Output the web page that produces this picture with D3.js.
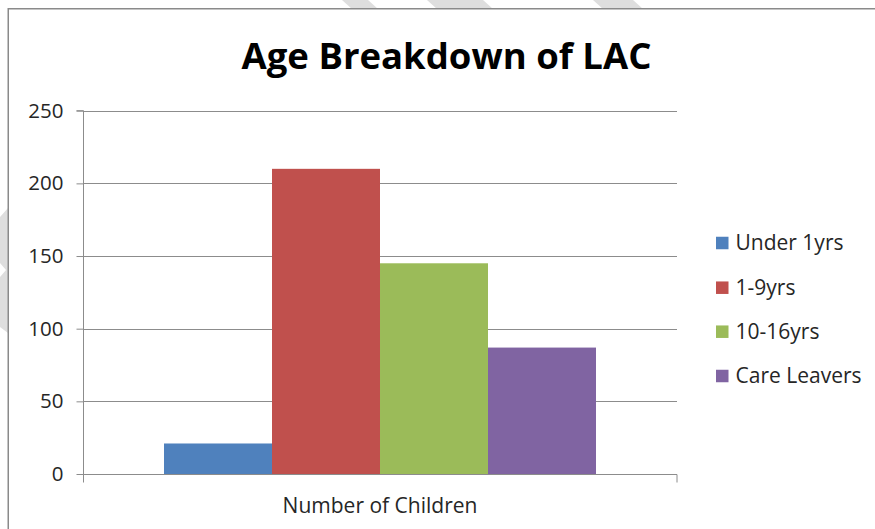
<!DOCTYPE html>
<html>
<head>
<meta charset="utf-8">
<script src="https://cdn.jsdelivr.net/npm/d3@7"></script>
<style>
  html, body { margin: 0; padding: 0; background: #ffffff; }
  svg { display: block; }
  text { font-family: "Open Sans", Lato, sans-serif; fill: #262626; }
</style>
</head>
<body>
<svg id="chart" width="875" height="529"></svg>
<script>
// Chart data
const title = "Age Breakdown of LAC";
const category = "Number of Children";
const seriesNames = ["Under 1yrs", "1-9yrs", "10-16yrs", "Care Leavers"];
const seriesValues = [21, 210, 145, 87];
const seriesColors = ["#4F81BD", "#C0504D", "#9BBB59", "#8064A2"];
const yTicks = [0, 50, 100, 150, 200, 250];

const svg = d3.select("#chart");
const W = 875, H = 529;
const FONT = "'Open Sans', Lato, sans-serif";

// Light diagonal background stripes around the chart frame
const stripes = [
  [[342, 0], [368, 0], [378, 9], [352, 9]],
  [[427, 0], [483, 0], [493, 9], [437, 9]],
  [[593, 0], [633, 0], [643, 9], [603, 9]],
  [[0, 217], [8, 208], [8, 333], [0, 327], [0, 277], [6, 270], [0, 263]]
];
svg.append("g").selectAll("path").data(stripes).join("path")
  .attr("d", d => d3.line()(d) + "Z")
  .attr("fill", "#dedede");

// Chart frame (cropped on right and bottom)
svg.append("rect")
  .attr("x", 8.25).attr("y", 8.75)
  .attr("width", W + 20).attr("height", H + 20)
  .attr("fill", "#ffffff")
  .attr("stroke", "#8a8a8a").attr("stroke-width", 1.5);

// Plot area
const plot = { left: 83, right: 677, top: 110.7, bottom: 474 };

const y = d3.scaleLinear().domain([0, 250]).range([plot.bottom, plot.top]);
const x = d3.scaleBand().domain(seriesNames)
  .range([plot.left, plot.right])
  .paddingInner(0).paddingOuter(0.75);

// Horizontal gridlines
svg.append("g").selectAll("line").data(yTicks.filter(t => t > 0)).join("line")
  .attr("x1", plot.left).attr("x2", plot.right)
  .attr("y1", d => Math.round(y(d)) + 0.5).attr("y2", d => Math.round(y(d)) + 0.5)
  .attr("stroke", "#8c8c8c").attr("stroke-width", 1);

// Bars
svg.append("g").selectAll("rect").data(seriesValues).join("rect")
  .attr("x", (d, i) => x(seriesNames[i]))
  .attr("width", x.bandwidth())
  .attr("y", d => y(d))
  .attr("height", d => y(0) - y(d))
  .attr("fill", (d, i) => seriesColors[i]);

// Y axis
const yAxis = d3.axisLeft(y).tickValues(yTicks).tickSize(7).tickPadding(13);
const yg = svg.append("g")
  .attr("transform", `translate(${plot.left + 0.5},0)`)
  .call(yAxis);
yg.select(".domain").attr("stroke", "#8c8c8c").attr("d", `M-7,${y(250)}H0V${y(0) + 8}`);
yg.selectAll(".tick line").attr("stroke", "#8c8c8c");
yg.selectAll(".tick text")
  .attr("font-family", FONT)
  .attr("font-size", 20.5).attr("fill", "#262626");

// X axis baseline with end ticks
const xg = svg.append("g").attr("transform", `translate(0,${Math.round(y(0)) + 0.5})`);
xg.append("line")
  .attr("x1", plot.left).attr("x2", plot.right)
  .attr("stroke", "#8c8c8c");
xg.selectAll("line.tk").data([plot.left + 0.5, plot.right]).join("line")
  .attr("class", "tk")
  .attr("x1", d => d).attr("x2", d => d)
  .attr("y1", 0).attr("y2", 8)
  .attr("stroke", "#8c8c8c");

// Category label
svg.append("text")
  .attr("x", (plot.left + plot.right) / 2).attr("y", 513)
  .attr("text-anchor", "middle")
  .attr("font-size", 21)
  .text(category);

// Title
svg.append("text")
  .attr("x", 446.5).attr("y", 69)
  .attr("text-anchor", "middle")
  .attr("font-size", 36.5).attr("font-weight", "bold")
  .style("fill", "#000000")
  .text(title);

// Legend
const legendY = [243, 287.7, 331.7, 376];
const lg = svg.append("g").selectAll("g").data(seriesNames).join("g")
  .attr("transform", (d, i) => `translate(716,${legendY[i]})`);
lg.append("rect")
  .attr("x", 0).attr("y", -6.25)
  .attr("width", 12.5).attr("height", 12.5)
  .attr("fill", (d, i) => seriesColors[i]);
lg.append("text")
  .attr("x", 19.5).attr("y", 0).attr("dy", "0.35em")
  .attr("font-size", 21)
  .text(d => d);
</script>
</body>
</html>
